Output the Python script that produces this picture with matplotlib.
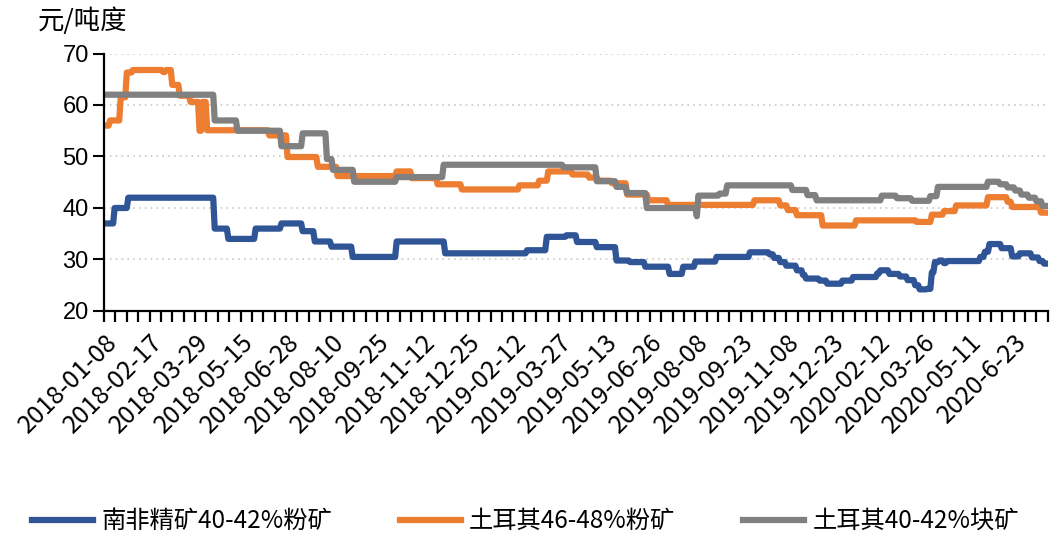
import numpy as np
import matplotlib
matplotlib.use("Agg")
import matplotlib.pyplot as plt

plt.rcParams['font.family'] = ['Liberation Sans', 'Noto Sans CJK SC', 'DejaVu Sans']

# trading-day axis: one label every 30 points
n_points = 623
tick_labels = ['2018-01-08', '2018-02-17', '2018-03-29', '2018-05-15', '2018-06-28',
               '2018-08-10', '2018-09-25', '2018-11-12', '2018-12-25', '2019-02-12',
               '2019-03-27', '2019-05-13', '2019-06-26', '2019-08-08', '2019-09-23',
               '2019-11-08', '2019-12-23', '2020-02-12', '2020-03-26', '2020-05-11',
               '2020-6-23']

# price changes: (start index, price)
sa_start = [0, 7, 16, 73, 82, 100, 117, 131, 139, 150, 164, 193, 225, 279, 292, 305, 312,
            325, 338, 347, 357, 373, 382, 390, 404, 426, 439, 442, 446, 450, 457, 461, 463,
            472, 477, 487, 494, 510, 512, 518, 525, 530, 535, 538, 543, 546, 548, 551, 554,
            556, 578, 581, 584, 592, 599, 604, 612, 617, 620]
sa_price = [37, 40, 42, 36, 34, 36, 37, 35.5, 33.5, 32.5, 30.5, 33.5, 31.2, 31.8, 34.4, 34.7,
            33.4, 32.4, 29.8, 29.5, 28.6, 27.2, 28.6, 29.6, 30.5, 31.4, 31.0, 30.3, 29.5, 28.8,
            27.9, 27.0, 26.3, 25.9, 25.3, 25.9, 26.6, 27.3, 27.9, 27.2, 26.7, 26.0, 25.0, 24.2,
            24.3, 27.5, 29.5, 29.8, 29.3, 29.7, 30.5, 31.5, 33.0, 32.2, 30.6, 31.2, 30.4, 29.7,
            29.2]

tf_start = [0, 4, 11, 15, 19, 39, 41, 45, 50, 57, 63, 65, 68, 109, 121, 141, 154, 193, 203,
            220, 236, 274, 287, 293, 309, 320, 326, 335, 345, 359, 372, 429, 446, 451, 457,
            474, 496, 536, 546, 554, 562, 583, 596, 599, 618]
tf_price = [56, 57, 61.5, 66.3, 66.8, 66.4, 66.8, 63.9, 61.8, 60.6, 55, 60.6, 55.1, 54.1, 49.9,
            48, 46.2, 47.1, 45.8, 44.6, 43.6, 44.4, 45.3, 47.1, 46.5, 45.9, 45.3, 44.8, 42.6,
            41.5, 40.6, 41.5, 40.5, 39.6, 38.6, 36.6, 37.6, 37.3, 38.7, 39.4, 40.5, 42.1, 41.2,
            40.2, 39.1]

tl_start = [0, 73, 88, 117, 131, 147, 151, 165, 193, 224, 303, 325, 338, 345, 358, 391, 392,
            406, 411, 454, 464, 470, 513, 523, 533, 545, 550, 583, 591, 596, 601, 605, 610,
            615, 619]
tl_price = [62, 57, 55, 52, 54.5, 49.5, 47.4, 45.1, 46, 48.4, 47.9, 45.2, 44.1, 42.9, 40, 38.4,
            42.4, 42.8, 44.4, 43.5, 42.5, 41.5, 42.4, 41.9, 41.4, 42.3, 44.1, 45.1, 44.6, 44.0,
            43.4, 42.6, 42.0, 41.3, 40.4]

names = ['南非精矿40-42%粉矿', '土耳其46-48%粉矿', '土耳其40-42%块矿']
colors = ['#2F5597', '#ED7D31', '#808080']


def expand(starts, prices):
    lengths = np.diff(starts + [n_points])
    return np.repeat(prices, lengths)


series = [expand(sa_start, sa_price), expand(tf_start, tf_price), expand(tl_start, tl_price)]
x = np.arange(n_points)

fig = plt.figure(figsize=(10.51, 5.35), dpi=100)
ax = fig.add_axes([0.099, 0.4187, 0.898, 0.4813])

for y, c, name in zip(series, colors, names):
    ax.plot(x, y, color=c, lw=4.5, label=name, solid_joinstyle='round')

ax.set_ylim(20, 70)
ax.set_xlim(0, n_points - 1)
ax.set_yticks(range(20, 71, 10))
ax.yaxis.grid(True, linestyle=(0, (1, 2.5)), color='#c8c8c8', lw=1.2)
ax.set_axisbelow(True)

# small ticks between the labels
minor_pos = [p for p in np.arange(0, n_points, 7.5) if p % 30 != 0]
ax.set_xticks(minor_pos, minor=True)
ax.set_xticks(np.arange(0, 601, 30))
ax.set_xticklabels(tick_labels, rotation=45, ha='right', rotation_mode='anchor',
                   fontsize=18, family=['Noto Sans CJK SC'])
ax.tick_params(axis='x', which='both', direction='out', length=8, width=1.6,
               color='black', pad=5)
ax.tick_params(axis='y', direction='out', length=8, width=1.5, labelsize=17, pad=3)

for side in ['top', 'right']:
    ax.spines[side].set_visible(False)
for side in ['left', 'bottom']:
    ax.spines[side].set_linewidth(1.6)

fig.text(0.036, 0.96, '元/吨度', fontsize=19, family=['Noto Sans CJK SC'], va='center')

leg = fig.legend(loc='center', bbox_to_anchor=(0.5, 0.026), ncol=3, frameon=False,
                 prop={'family': ['Noto Sans CJK SC'], 'size': 17.5}, handlelength=2.5,
                 columnspacing=2.8, handletextpad=0.35)
for line in leg.get_lines():
    line.set_linewidth(4.5)

fig.savefig('out.png', dpi=100)
